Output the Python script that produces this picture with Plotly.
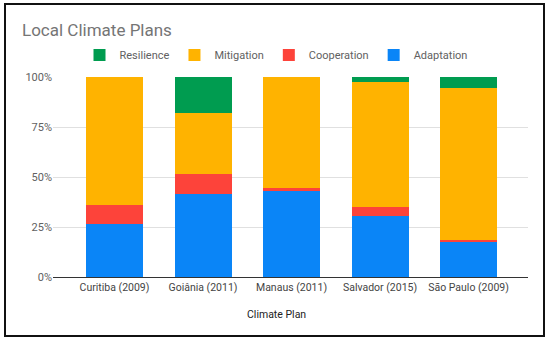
import plotly.graph_objects as go

categories = ["Curitiba (2009)", "Goiânia (2011)", "Manaus (2011)", "Salvador (2015)", "São Paulo (2009)"]
adaptation = [26.7, 41.7, 42.8, 30.5, 17.5]
cooperation = [9.5, 10.0, 1.5, 4.3, 0.8]
mitigation = [63.8, 30.5, 55.7, 62.7, 76.0]
resilience = [0.0, 17.8, 0.0, 2.5, 5.7]
y_ticks = [0, 25, 50, 75, 100]
y_tick_labels = ["0%", "25%", "50%", "75%", "100%"]

series = [
    ("Adaptation", adaptation, "#0a85f7"),
    ("Cooperation", cooperation, "#fd433a"),
    ("Mitigation", mitigation, "#ffb300"),
    ("Resilience", resilience, "#009c50"),
]

fig = go.Figure()
for name, vals, col in series:
    fig.add_trace(go.Bar(x=categories, y=vals, name=name, marker=dict(color=col, line=dict(width=0))))

W, H = 550, 343
L, R, T, B = 53, 528, 77, 277

def px(x):
    return (x - L) / (R - L)

def py(y):
    return (B - y) / (B - T)

fig.update_layout(
    width=W, height=H,
    barmode="stack", bargap=0.356,
    margin=dict(l=L, r=W - R, t=T, b=H - B, autoexpand=False),
    paper_bgcolor="white", plot_bgcolor="white",
    font=dict(family="Roboto", color="#616161"),
    title=dict(text="Local Climate Plans", x=22 / W, xref="container", xanchor="left",
               y=1 - 30 / H, yref="container", yanchor="middle",
               font=dict(size=17, color="#757575", family="Roboto")),
    legend=dict(orientation="h", traceorder="reversed", x=276 / W, xref="container", xanchor="center",
                y=1 - 55 / H, yref="container", yanchor="middle", itemwidth=30,
                font=dict(size=11, color="#616161")),
    xaxis=dict(range=[-0.695, 4.672], showline=True, linecolor="#333", linewidth=1,
               tickfont=dict(size=10.5, color="#444"), ticks="", tickangle=0, automargin=False),
    yaxis=dict(range=[0, 100], tickvals=y_ticks, ticktext=y_tick_labels, gridcolor="#e0e0e0",
               tickfont=dict(size=11, color="#616161"), zeroline=False, ticks="", automargin=False),
    annotations=[dict(text="Climate Plan", xref="paper", yref="paper", x=px(276.5), y=py(314),
                      xanchor="center", yanchor="middle", showarrow=False,
                      font=dict(size=10.5, color="#222"))],
    shapes=[dict(type="rect", xref="paper", yref="paper",
                 x0=px(5), x1=px(544), y0=py(336), y1=py(4),
                 line=dict(color="#111", width=2), layer="above")],
)

fig.write_html("out.html", config={"displayModeBar": False},
               post_script="document.body.style.margin='0px';document.body.style.overflow='hidden';")
